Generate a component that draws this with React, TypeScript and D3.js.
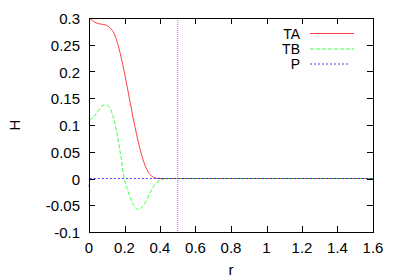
import React from "react";
import * as d3 from "d3";

const rValues = [0, 0.02, 0.04, 0.06, 0.08, 0.1, 0.12, 0.14, 0.16, 0.18, 0.2, 0.22, 0.24, 0.26, 0.28, 0.3, 0.32, 0.34, 0.36, 0.38, 0.4, 0.42, 0.44, 1.6];
const taValues = [0.3, 0.295, 0.291, 0.289, 0.288, 0.286, 0.281, 0.272, 0.254, 0.228, 0.197, 0.163, 0.128, 0.095, 0.065, 0.04, 0.021, 0.009, 0.003, 0.0005, 0, 0, 0, 0];
const tbValues = [0.11, 0.113, 0.121, 0.13, 0.137, 0.137, 0.13, 0.111, 0.08, 0.04, -0.002, -0.024, -0.042, -0.054, -0.058, -0.053, -0.043, -0.029, -0.017, -0.008, -0.003, -0.001, 0, 0];
const pR = [0, 0.005, 1.6];
const pValues = [-0.015, 0, 0];
const markerR = 0.5;
const xTicks = [0, 0.2, 0.4, 0.6, 0.8, 1, 1.2, 1.4, 1.6];
const yTicks = [-0.1, -0.05, 0, 0.05, 0.1, 0.15, 0.2, 0.25, 0.3];
const seriesNames = ["TA", "TB", "P"];

const W = 399, H = 279;
const L = 89, R = 373, T = 18, B = 232;
const FONT = "'Liberation Sans', Arial, Helvetica, sans-serif";

export default function App() {
  const x = d3.scaleLinear().domain([0, 1.6]).range([L, R]);
  const y = d3.scaleLinear().domain([-0.1, 0.3]).range([B, T]);
  const line = (rs: number[], vs: number[], curve: any) =>
    d3.line<number>().x((_, i) => x(rs[i])).y((v) => y(v)).curve(curve)(vs) || "";
  const styles = [
    { stroke: "#ff0000", dash: undefined as string | undefined, end: 354 },
    { stroke: "#00ff00", dash: "4,2", end: 354 },
    { stroke: "#0000ff", dash: "2,2", end: 350 },
  ];
  const paths = [
    line(rValues, taValues, d3.curveMonotoneX),
    line(rValues, tbValues, d3.curveMonotoneX),
    line(pR, pValues, d3.curveLinear),
  ];
  const legendY = [33.5, 49, 64];
  return (
    <svg width={W} height={H} style={{ position: "absolute", left: 0, top: 0, background: "#fff" }} fontFamily={FONT} fontSize={15}>
      <rect x={0} y={0} width={W} height={H} fill="#fff" />
      {paths.map((d, i) => (
        <path key={i} d={d} fill="none" stroke={styles[i].stroke} strokeWidth={1} strokeDasharray={styles[i].dash} strokeOpacity={0.75} />
      ))}
      <line x1={x(markerR)} x2={x(markerR)} y1={T} y2={B} stroke="#ff00ff" strokeWidth={1} strokeDasharray="1,1" strokeOpacity={0.8} />
      <rect x={L + 0.5} y={T + 0.5} width={R - L} height={B - T} fill="none" stroke="#000" strokeWidth={1} />
      {xTicks.map((t) => (
        <g key={"x" + t}>
          <line x1={Math.round(x(t)) + 0.5} x2={Math.round(x(t)) + 0.5} y1={B} y2={B - 6} stroke="#000" />
          <line x1={Math.round(x(t)) + 0.5} x2={Math.round(x(t)) + 0.5} y1={T} y2={T + 6} stroke="#000" />
          <text x={x(t)} y={253} textAnchor="middle">{String(t)}</text>
        </g>
      ))}
      {yTicks.map((t) => (
        <g key={"y" + t}>
          <line x1={L} x2={L + 6} y1={Math.round(y(t)) + 0.5} y2={Math.round(y(t)) + 0.5} stroke="#000" />
          <line x1={R} x2={R - 6} y1={Math.round(y(t)) + 0.5} y2={Math.round(y(t)) + 0.5} stroke="#000" />
          <text x={80} y={y(t) + 6} textAnchor="end">{String(t)}</text>
        </g>
      ))}
      <text x={(L + R) / 2} y={275} textAnchor="middle">r</text>
      <text transform={`translate(20,${(T + B) / 2}) rotate(-90)`} textAnchor="middle">H</text>
      {seriesNames.map((n, i) => (
        <g key={n}>
          <text x={300} y={legendY[i] + 5} textAnchor="end" fontSize={14}>{n}</text>
          <line x1={310} x2={styles[i].end} y1={legendY[i]} y2={legendY[i]} stroke={styles[i].stroke} strokeDasharray={styles[i].dash} strokeOpacity={0.75} />
        </g>
      ))}
    </svg>
  );
}
